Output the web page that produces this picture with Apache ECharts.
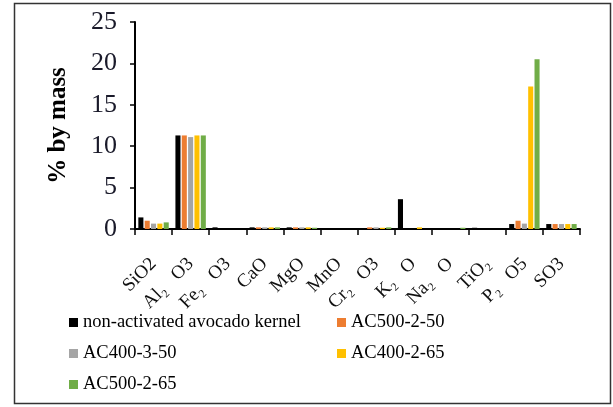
<!DOCTYPE html>
<html><head><meta charset="utf-8">
<script src="https://cdn.jsdelivr.net/npm/echarts@6/dist/echarts.min.js"></script>
<style>html,body{margin:0;padding:0;background:#fff}#c{width:613px;height:407px}</style>
</head><body><div id="c"></div>
<script>
const categories = ["SiO2", "Al\u2082   O3", "Fe\u2082   O3", "CaO", "MgO", "MnO", "Cr\u2082   O3", "K\u2082   O", "Na\u2082   O", "TiO\u2082", "P\u2082   O5", "SO3"];
const seriesNames = ["non-activated avocado kernel", "AC500-2-50", "AC400-3-50", "AC400-2-65", "AC500-2-65"];
const nonActivated = [1.4, 11.3, 0.2, 0.2, 0.2, 0.1, 0, 3.6, 0, 0.15, 0.6, 0.6];
const ac500_2_50 = [1.0, 11.3, 0, 0.2, 0.2, 0, 0.2, 0, 0, 0, 1.0, 0.6];
const ac400_3_50 = [0.65, 11.1, 0, 0.2, 0.2, 0, 0.2, 0, 0, 0, 0.65, 0.6];
const ac400_2_65 = [0.65, 11.3, 0, 0.2, 0.2, 0, 0.15, 0.2, 0, 0, 17.2, 0.6];
const ac500_2_65 = [0.8, 11.3, 0, 0.2, 0.15, 0, 0.2, 0, 0.15, 0, 20.5, 0.6];
const yTicks = [0, 5, 10, 15, 20, 25];
const colors = ["#000000", "#ED7D31", "#A5A5A5", "#FFC000", "#70AD47"];
const allData = [nonActivated, ac500_2_50, ac400_3_50, ac400_2_65, ac500_2_65];

const chart = echarts.init(document.getElementById('c'), null, {renderer: 'canvas'});
const serif = "'Liberation Serif', 'Times New Roman', serif";
chart.setOption({
  animation: false,
  backgroundColor: '#fff',
  color: colors,
  graphic: [{type: 'rect', shape: {x: 14.5, y: 3.5, width: 596, height: 400}, style: {fill: 'none', stroke: '#333', lineWidth: 1.5}, z: -1}],
  grid: {left: 135, right: 33, top: 22, bottom: 178, containLabel: false},
  legend: [
    {data: [seriesNames[0], seriesNames[2], seriesNames[4]], orient: 'vertical', left: 64, top: 308, itemWidth: 9, itemHeight: 9, itemGap: 12, icon: 'rect',
     textStyle: {fontFamily: serif, fontSize: 18.5, color: '#000'}},
    {data: [seriesNames[1], seriesNames[3]], orient: 'vertical', left: 332, top: 308, itemWidth: 9, itemHeight: 9, itemGap: 12, icon: 'rect',
     textStyle: {fontFamily: serif, fontSize: 18.5, color: '#000'}}
  ],
  xAxis: {
    type: 'category', data: categories,
    axisLine: {lineStyle: {color: '#000', width: 2}},
    axisTick: {show: true, length: 6, lineStyle: {color: '#000', width: 1.5}},
    axisLabel: {rotate: 45, margin: 32, fontFamily: serif, fontSize: 19, color: '#111', interval: 0}
  },
  yAxis: {
    type: 'value', min: 0, max: 25, interval: 5,
    name: '% by mass', nameLocation: 'middle', nameGap: 64, nameRotate: 90,
    nameTextStyle: {fontFamily: serif, fontSize: 25, fontWeight: 'bold', color: '#000'},
    axisLine: {show: true, lineStyle: {color: '#000', width: 2}},
    axisTick: {show: true, length: 5, lineStyle: {color: '#000', width: 1.5}},
    splitLine: {show: false},
    axisLabel: {fontFamily: serif, fontSize: 26, color: '#1a1a2a', margin: 18,
      formatter: v => yTicks.includes(v) ? String(v) : ''}
  },
  series: seriesNames.map((n, i) => ({
    name: n, type: 'bar', data: allData[i], barGap: '25%', barCategoryGap: '18%',
    itemStyle: {color: colors[i]}
  }))
});
</script></body></html>
